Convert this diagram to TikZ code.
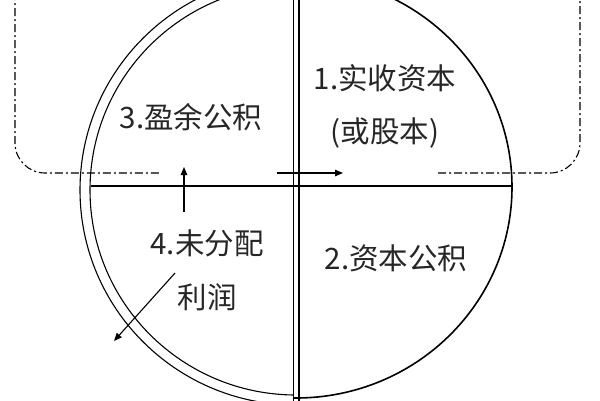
\documentclass[tikz,border=0pt]{standalone}
\usepackage{fontspec}
\newfontfamily\cjkfont{Noto Sans CJK SC}
\usetikzlibrary{arrows.meta}
\tikzset{
  lbl/.style={font=\cjkfont\fontsize{29.5pt}{31pt}\selectfont, text=black!85, inner sep=0pt},
  ringline/.style={line width=1.1pt, black},
  ringthick/.style={line width=1.6pt, black},
  flow/.style={line width=1.1pt, -{Triangle[length=8pt,width=6.5pt]}},
  boundary/.style={line width=1.1pt, dash pattern=on 8pt off 3pt on 2pt off 3pt, rounded corners=30pt}
}
\begin{document}
\begin{tikzpicture}[x=1pt,y=-1pt]
\useasboundingbox (0,0) rectangle (600,400);
\fill[white] (0,0) rectangle (600,400);
\clip (0,0) rectangle (600,400);
% dashed boundary
\draw[boundary] (15,-40) -- (15,173) -- (160,173);
\draw[boundary] (438,173) -- (580,173) -- (580,-40);
% outer ring: left double, right single thicker
\begin{scope}
\clip (0,0) rectangle (293,400);
\draw[ringline] (296,190) ellipse [x radius=216pt, y radius=215pt];
\draw[ringline] (296,190) ellipse [x radius=206pt, y radius=205pt];
\end{scope}
\begin{scope}
\clip (293,0) rectangle (600,400);
\draw[ringthick] (296,187) ellipse [x radius=216pt, y radius=211pt];
\end{scope}
% dividing lines
\draw[line width=1pt] (293,-5) -- (293,405);
\draw[line width=2pt] (298.5,-5) -- (298.5,405);
\draw[line width=1.1pt] (91,186) -- (512,186);
% labels
\node[lbl] (n1) at (385,78) {1.实收资本};
\node[lbl] (n1b) at (385,133) {(或股本)};
\node[lbl] (n3) at (191,117) {3.盈余公积};
\node[lbl] (n4) at (207,243) {4.未分配};
\node[lbl] (n4b) at (207,297) {利润};
\node[lbl] (n2) at (396,258) {2.资本公积};
% arrows
\coordinate (u1) at (184,212); \coordinate (u2) at (184,167);
\coordinate (r1) at (277,173); \coordinate (r2) at (343,173);
\coordinate (d1) at (175,273); \coordinate (d2) at (114,341);
\draw[flow] (u1) -- (u2);
\draw[flow] (r1) -- (r2);
\draw[flow] (d1) -- (d2);
\end{tikzpicture}
\end{document}
